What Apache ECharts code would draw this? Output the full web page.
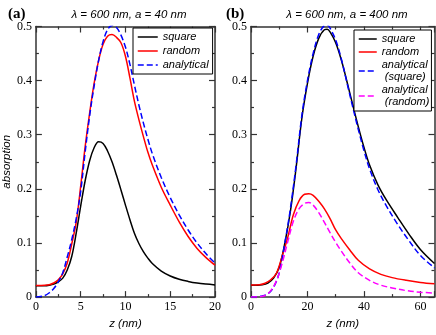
<!DOCTYPE html>
<html>
<head>
<meta charset="utf-8">
<script src="https://cdn.jsdelivr.net/npm/echarts@6/dist/echarts.min.js"></script>
<style>
  html, body { margin: 0; padding: 0; background: #fff; }
  #main { width: 436px; height: 335px; }
</style>
</head>
<body>
<div id="main"></div>
<script type="text/javascript">
// panel (a): lambda = 600 nm, a = 40 nm
var zA = [0, 1, 1.5, 2, 2.5, 3, 3.5, 4, 4.5, 5, 5.5, 6, 6.5, 7, 7.5, 8, 8.5, 9, 9.5, 10, 10.5, 11, 11.5, 12, 12.5, 13, 14, 15, 16, 17, 18, 19, 20];
var squareA = [0.021, 0.021, 0.022, 0.024, 0.028, 0.035, 0.05, 0.075, 0.118, 0.168, 0.215, 0.252, 0.276, 0.287, 0.284, 0.27, 0.25, 0.225, 0.198, 0.17, 0.143, 0.118, 0.099, 0.084, 0.072, 0.062, 0.048, 0.039, 0.033, 0.029, 0.026, 0.024, 0.0225];
var randomA = [0.0215, 0.022, 0.023, 0.026, 0.032, 0.043, 0.063, 0.098, 0.138, 0.205, 0.278, 0.34, 0.395, 0.437, 0.467, 0.482, 0.485, 0.48, 0.47, 0.445, 0.405, 0.362, 0.328, 0.297, 0.268, 0.244, 0.203, 0.17, 0.139, 0.112, 0.09, 0.073, 0.059];
var analyticalA = [0, 0.003, 0.008, 0.016, 0.028, 0.045, 0.074, 0.106, 0.145, 0.195, 0.268, 0.335, 0.39, 0.437, 0.472, 0.494, 0.502, 0.498, 0.484, 0.462, 0.43, 0.392, 0.355, 0.322, 0.292, 0.265, 0.221, 0.184, 0.152, 0.124, 0.1, 0.08, 0.063];

// panel (b): lambda = 600 nm, a = 400 nm
var zSq = [0, 4, 6, 8, 10, 12, 14, 16, 18, 20, 22, 24, 26, 27, 28, 30, 32, 34, 36, 38, 40, 42, 45, 48, 52, 56, 60, 65];
var squareB = [0.022, 0.023, 0.026, 0.035, 0.055, 0.1, 0.16, 0.24, 0.33, 0.395, 0.445, 0.478, 0.494, 0.495, 0.49, 0.47, 0.438, 0.398, 0.356, 0.315, 0.277, 0.244, 0.207, 0.179, 0.147, 0.116, 0.088, 0.062];
var analyticalSqB = [0, 0.002, 0.006, 0.018, 0.045, 0.1, 0.165, 0.245, 0.335, 0.4, 0.45, 0.485, 0.502, 0.503, 0.497, 0.475, 0.44, 0.396, 0.352, 0.31, 0.271, 0.237, 0.198, 0.168, 0.134, 0.104, 0.077, 0.054];
var zRd = [0, 3, 5, 7, 9, 11, 13, 15, 17, 19, 20.5, 22, 24, 26, 28, 30, 32, 35, 38, 42, 46, 50, 55, 60, 65];
var randomB = [0.0225, 0.023, 0.0255, 0.032, 0.044, 0.075, 0.11, 0.152, 0.178, 0.19, 0.191, 0.188, 0.177, 0.163, 0.145, 0.124, 0.108, 0.087, 0.068, 0.052, 0.042, 0.036, 0.031, 0.027, 0.0245];
var analyticalRdB = [0, 0.0005, 0.003, 0.012, 0.03, 0.062, 0.102, 0.14, 0.163, 0.173, 0.175, 0.17, 0.156, 0.138, 0.119, 0.101, 0.085, 0.063, 0.045, 0.031, 0.022, 0.017, 0.012, 0.009, 0.0075];

function pair(xs, ys) { return xs.map(function (x, i) { return [x, ys[i]]; }); }

var serif = 'Liberation Serif';
var sans = 'Liberation Sans';
var frame = '#333';

function xAx(grid, max, step, pos) {
  return {
    type: 'value', gridIndex: grid, position: pos, min: 0, max: max, interval: step,
    axisLine: { show: true, onZero: false, lineStyle: { color: frame, width: 1.5 } },
    axisTick: { inside: true, length: 6, lineStyle: { color: frame, width: 1.2 } },
    minorTick: { show: true, splitNumber: 2, length: 3, lineStyle: { color: frame, width: 1.2 } },
    axisLabel: { show: pos === 'bottom', showMaxLabel: max % step === 0, fontFamily: serif, fontSize: 12, color: '#000', margin: 4 },
    splitLine: { show: false },
    name: pos === 'bottom' ? 'z (nm)' : '', nameLocation: 'middle', nameGap: 15,
    nameTextStyle: { fontFamily: sans, fontStyle: 'italic', fontSize: 11.5, color: '#000' }
  };
}
function yAx(grid, pos, name) {
  return {
    type: 'value', gridIndex: grid, position: pos, min: 0, max: 0.5, interval: 0.1,
    axisLine: { show: true, onZero: false, lineStyle: { color: frame, width: 1.5 } },
    axisTick: { inside: true, length: 6, lineStyle: { color: frame, width: 1.2 } },
    minorTick: { show: true, splitNumber: 2, length: 3, lineStyle: { color: frame, width: 1.2 } },
    axisLabel: { show: pos === 'left', fontFamily: serif, fontSize: 12, color: '#000', margin: 4 },
    splitLine: { show: false },
    name: name, nameLocation: 'middle', nameGap: 22,
    nameTextStyle: { fontFamily: sans, fontStyle: 'italic', fontSize: 11.5, color: '#000' }
  };
}

// ax: index of the bottom x axis / left y axis of the panel
function line(name, ax, data, color, dashed) {
  return {
    name: name, type: 'line', xAxisIndex: ax, yAxisIndex: ax, data: data,
    showSymbol: false, symbol: 'none', smooth: 0.35, animation: false,
    lineStyle: { color: color, width: 1.5, type: dashed ? [6, 3] : 'solid' },
    itemStyle: { color: color }
  };
}

var myChart = echarts.init(document.getElementById('main'));

var legendText = { fontFamily: sans, fontStyle: 'italic', fontSize: 11, color: '#000', lineHeight: 12 };

var option = {
  backgroundColor: '#fff',
  animation: false,
  title: [
    { text: 'λ = 600 nm, a = 40 nm', left: 124, top: 4, textAlign: 'center',
      textStyle: { fontFamily: sans, fontStyle: 'italic', fontWeight: 'normal', fontSize: 11.5, color: '#000' } },
    { text: 'λ = 600 nm, a = 400 nm', left: 342, top: 4, textAlign: 'center',
      textStyle: { fontFamily: sans, fontStyle: 'italic', fontWeight: 'normal', fontSize: 11.5, color: '#000' } },
    { text: '(a)', left: 3, top: 2, textStyle: { fontFamily: serif, fontWeight: 'bold', fontSize: 15, color: '#000' } },
    { text: '(b)', left: 221, top: 2, textStyle: { fontFamily: serif, fontWeight: 'bold', fontSize: 15, color: '#000' } }
  ],
  legend: [
    { data: ['square', 'random', 'analytical'], left: 133, top: 28, orient: 'vertical',
      itemWidth: 20, itemHeight: 10, itemGap: 2, padding: [3, 4, 3, 4],
      itemStyle: { opacity: 0 }, lineStyle: { width: 1.5 },
      backgroundColor: '#fff', borderColor: '#000', borderWidth: 1, borderRadius: 0,
      selectedMode: false, textStyle: legendText },
    { data: ['square', 'random', 'analytical\n (square)', 'analytical\n (random)'], left: 354, top: 30, orient: 'vertical',
      itemWidth: 18, itemHeight: 10, itemGap: 1, padding: [3, 2, 3, 4],
      itemStyle: { opacity: 0 }, lineStyle: { width: 1.5 },
      backgroundColor: '#fff', borderColor: '#000', borderWidth: 1, borderRadius: 0,
      selectedMode: false, textStyle: legendText }
  ],
  grid: [
    { left: 33, top: 26.5, width: 182, height: 280.5 },
    { left: 251, top: 26.5, width: 183.5, height: 280.5 }
  ],
  xAxis: [xAx(0, 20, 5, 'bottom'), xAx(0, 20, 5, 'top'), xAx(1, 65, 20, 'bottom'), xAx(1, 65, 20, 'top')],
  yAxis: [yAx(0, 'left', 'absorption'), yAx(0, 'right', ''), yAx(1, 'left', ''), yAx(1, 'right', '')],
  series: [
    line('square', 0, pair(zA, squareA), '#000', false),
    line('random', 0, pair(zA, randomA), '#ff0000', false),
    line('analytical', 0, pair(zA, analyticalA), '#0000ff', true),
    line('square', 2, pair(zSq, squareB), '#000', false),
    line('random', 2, pair(zRd, randomB), '#ff0000', false),
    line('analytical\n (square)', 2, pair(zSq, analyticalSqB), '#0000ff', true),
    line('analytical\n (random)', 2, pair(zRd, analyticalRdB), '#ff00ff', true)
  ]
};

myChart.setOption(option);
</script>
</body>
</html>
